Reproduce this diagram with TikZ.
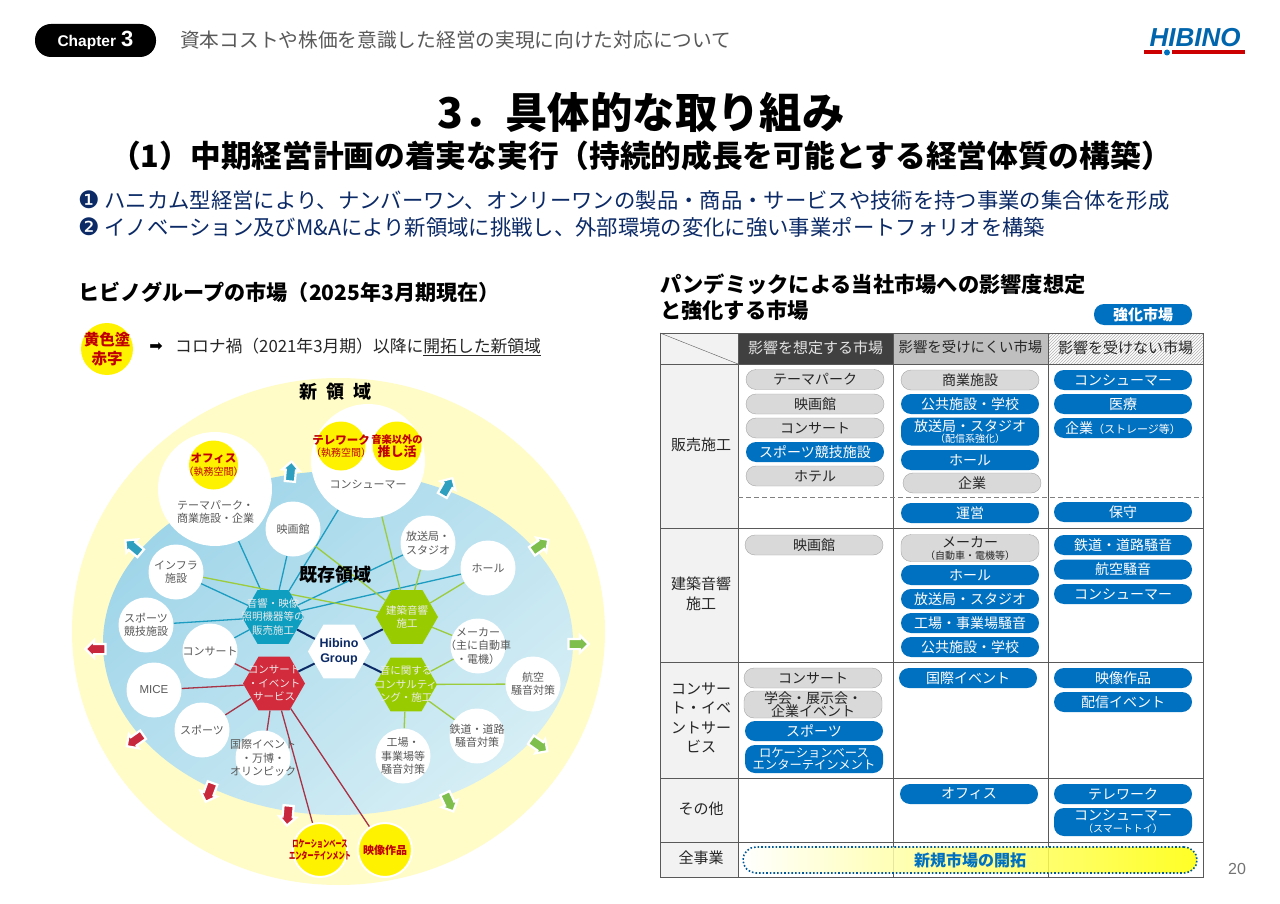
\documentclass[tikz,border=0pt]{standalone}
\usepackage{fontspec}
\setmainfont{Noto Sans CJK JP}
\newfontfamily\arfont{Liberation Sans}
\newfontfamily\dvfont{DejaVu Sans}
\usetikzlibrary{arrows,calc,positioning,patterns,shapes.geometric,shapes.arrows}
\pgfdeclarelayer{bg}
\pgfdeclarelayer{lines}
\pgfsetlayers{bg,lines,main}
\definecolor{pillblue}{HTML}{0070C0}
\definecolor{pillgray}{HTML}{D9D9D9}
\definecolor{pillrim}{HTML}{A6A6A6}
\definecolor{txtgray}{HTML}{595959}
\definecolor{navy}{HTML}{0B2A66}
\definecolor{linkblue}{HTML}{1C9CC0}
\definecolor{linkgreen}{HTML}{9CCB3B}
\definecolor{linkred}{HTML}{A83246}
\definecolor{hexblue}{HTML}{0E9EC0}
\definecolor{hexgreen}{HTML}{99CC00}
\definecolor{hexred}{HTML}{D22B3C}
\definecolor{arrteal}{HTML}{2E9FBF}
\definecolor{arrgreen}{HTML}{7FBF4D}
\definecolor{arrred}{HTML}{C8283C}
\definecolor{darkred}{HTML}{C00000}
\definecolor{areadark}{HTML}{9FD5E9}
\definecolor{arealight}{HTML}{D6EEF5}
\newcommand{\fs}[1]{\fontsize{#1}{#1}\selectfont}
\tikzset{
  bubble/.style={circle,fill=white,inner sep=0pt,minimum size=55pt},
  bubtxt/.style={align=center,text=txtgray,inner sep=0pt,font=\fontsize{11}{13.5}\selectfont},
  bigbub/.style={bubble,minimum size=114pt},
  hexa/.style={regular polygon,regular polygon sides=6,inner sep=0pt,minimum size=62pt},
  hextxt/.style={align=center,text=white!92!black,inner sep=0pt,font=\fontsize{10.5}{13.5}\selectfont},
  yelbub/.style={circle,fill=yellow,draw=white,line width=2pt,inner sep=0pt,minimum size=54pt},
  yelsmall/.style={circle,fill=yellow,inner sep=0pt,minimum size=49pt},
  redtxt/.style={align=center,text=darkred,inner sep=0pt,font=\fontsize{10}{12.5}\selectfont},
  outarrow/.style={single arrow,draw=white,line width=2.2pt,inner sep=4pt,minimum height=20pt,
    single arrow head extend=3.5pt},
  bluelink/.style={draw=linkblue,line width=1.3pt},
  greenlink/.style={draw=linkgreen,line width=1.3pt},
  redlink/.style={draw=linkred,line width=1.3pt},
  navylink/.style={draw=navy,line width=2pt},
  pill/.style={rectangle,rounded corners=10pt,minimum width=138pt,minimum height=20pt,inner sep=0pt,
    align=center,font=\fontsize{14}{14}\selectfont},
  bluepill/.style={pill,fill=pillblue,text=white},
  graypill/.style={pill,fill=pillgray,draw=pillrim,text=black!85},
  rowlabel/.style={align=center,inner sep=0pt,text=black!85,font=\fontsize{15}{19.5}\selectfont},
  headtxt/.style={inner sep=0pt,font=\fontsize{15}{16}\selectfont}
}
\begin{document}
\begin{tikzpicture}[x=1pt,y=-1pt]
  \useasboundingbox (0,0) rectangle (1280,904);
  \begin{pgfonlayer}{bg}
    \fill[white] (0,0) rectangle (1280,904);
    \node[ellipse,fill=yellow!22,minimum width=533pt,minimum height=507pt,inner sep=0pt] (newarea) at (338.5,631.5) {};
    \node[ellipse,left color=areadark,right color=arealight,shading angle=40,minimum width=470pt,minimum height=344pt,inner sep=0pt] (oldarea) at (338,643) {};
  \end{pgfonlayer}

  % page head
  \node[fill=black,rounded corners=16pt,minimum width=121pt,minimum height=33pt,text=white,inner sep=0pt] (chap) at (95.5,40.5)
    {\arfont\bfseries\fs{15.5}Chapter\,\,\fs{22}3};
  \node[anchor=west,inner sep=0pt,text=txtgray,font=\fs{19.7}] (chaptitle) at (180,40) {資本コストや株価を意識した経営の実現に向けた対応について};
  \node[inner sep=0pt,text=pillblue!90!black,font=\arfont\bfseries\itshape\fs{26}] (logo) at (1195,38) {HIBINO};
  \fill[red!80!black] (1144,50.5) rectangle (1162,54.5);
  \fill[red!80!black] (1172,50.5) rectangle (1245,54.5);
  \node[circle,fill=pillblue,inner sep=0pt,minimum size=6pt] (logodot) at (1167,52.5) {};

  \node[font=\bfseries\fs{42.4},inner sep=0pt] (title) at (641,112) {3．具体的な取り組み};
  \node[font=\bfseries\fs{30.7},inner sep=0pt] (subtitle) at (641,156) {（1）中期経営計画の着実な実行（持続的成長を可能とする経営体質の構築）};
  \node[anchor=west,inner sep=0pt,text=navy,font=\fs{21.35}] (point1) at (78,200)
    {{\dvfont\fs{24}❶} ハニカム型経営により、ナンバーワン、オンリーワンの製品・商品・サービスや技術を持つ事業の集合体を形成};
  \node[anchor=west,inner sep=0pt,text=navy,font=\fs{21.35}] (point2) at (78,227)
    {{\dvfont\fs{24}❷} イノベーション及びM\&Aにより新領域に挑戦し、外部環境の変化に強い事業ポートフォリオを構築};

  % left chart
  \node[anchor=west,inner sep=0pt,font=\bfseries\fs{21.1}] (lefthead) at (78,292) {ヒビノグループの市場（2025年3月期現在）};
  \node[yelbub,minimum size=52pt,draw=none,label={[redtxt,font=\bfseries\fontsize{15.5}{19}\selectfont]center:{黄色塗\\赤字}}] (legend) at (107,349) {};
  \node[inner sep=0pt,font=\dvfont\fs{16}] (legarrow) at (156,347) {➡};
  \node[anchor=west,inner sep=0pt,text=black!85,font=\fs{16.8}] (legtxt) at (175,347) {コロナ禍（2021年3月期）以降に\underline{開拓した新領域}};
  \node[font=\bfseries\fs{18},inner sep=0pt] (newlabel) at (335,392) {新\,\,\,領\,\,\,域};

  \node[bigbub] (office) at (215,489) {};
  \node[bigbub] (consumer) at (368,461) {};
  \node[yelsmall,label={[redtxt]center:{\bfseries\fs{11.5}オフィス\\（執務空間）}}] (officey) at (213.5,465) {};
  \node[yelsmall,label={[redtxt]center:{\bfseries\fs{11.5}テレワーク\\（執務空間）}}] (telework) at (341,446) {};
  \node[yelsmall,label={[redtxt]center:{\bfseries\fs{10.3}音楽以外の\\\bfseries\fs{13}推し活}}] (oshi) at (397,446) {};
  \node[bubtxt] (officetxt) at (215.5,512) {テーマパーク・\\商業施設・企業};
  \node[bubtxt] (consumertxt) at (368,485) {コンシューマー};

  \node[bubble,label={[bubtxt]center:映画館}] (cinema) at (293,529) {};
  \node[bubble,label={[bubtxt]center:{インフラ\\施設}}] (infra) at (176,572) {};
  \node[bubble,label={[bubtxt]center:{スポーツ\\競技施設}}] (stadium) at (146,625) {};
  \node[bubble,label={[bubtxt]center:コンサート}] (concert) at (210,651) {};
  \node[bubble,label={[bubtxt,font=\arfont\fs{11.5}]center:MICE}] (mice) at (154,690) {};
  \node[bubble,label={[bubtxt]center:スポーツ}] (sports) at (202,730) {};
  \node[bubble,label={[bubtxt]center:{国際イベント\\・万博・\\オリンピック}}] (expo) at (263,758) {};
  \node[bubble,label={[bubtxt]center:{放送局・\\スタジオ}}] (radio) at (428,543) {};
  \node[bubble,label={[bubtxt]center:ホール}] (hall) at (488,568) {};
  \node[bubble,label={[bubtxt]center:{メーカー\\（主に自動車\\・電機）}}] (maker) at (478,646) {};
  \node[bubble,label={[bubtxt]center:{航空\\騒音対策}}] (aero) at (533,684) {};
  \node[bubble,label={[bubtxt]center:{鉄道・道路\\騒音対策}}] (rail) at (477,736) {};
  \node[bubble,label={[bubtxt]center:{工場・\\事業場等\\騒音対策}}] (plant) at (403,756) {};
  \node[yelbub,label={[redtxt]center:{\bfseries\scalebox{.62}[1]{ロケーションベース}\\\bfseries\scalebox{.62}[1]{エンターテインメント}}}] (lbe) at (320,850) {};
  \node[yelbub,label={[redtxt,font=\bfseries\fs{11}]center:映像作品}] (video) at (385,850) {};

  \node[hexa,fill=hexblue,label={[hextxt]center:{音響・映像\\照明機器等の\\販売施工}}] (hexsale) at (273,617) {};
  \node[hexa,fill=hexred,label={[hextxt]center:{コンサート\\・イベント\\サービス}}] (hexevent) at (274,683.5) {};
  \node[hexa,fill=hexgreen,label={[hextxt]center:{建築音響\\施工}}] (hexbuild) at (407,617) {};
  \node[hexa,fill=hexgreen,label={[hextxt]center:{音に関する\\コンサルティ\\ング・施工}}] (hexsound) at (406,684.5) {};
  \node[hexa,fill=white,label={[align=center,inner sep=0pt,text=navy,font=\arfont\bfseries\fontsize{12.5}{15}\selectfont]center:{Hibino\\Group}}] (hibino) at (339,651.5) {};
  \node[font=\bfseries\fs{18},inner sep=0pt] (oldlabel) at (335,575) {既存領域};

  \begin{pgfonlayer}{lines}
    \path[bluelink]
      (hexsale) edge (office)
      (hexsale) edge (cinema)
      (hexsale) edge (consumer)
      (hexsale) edge (infra)
      (hexsale) edge (stadium)
      (hexsale) edge (concert)
      (hexsale) edge (radio)
      (hexsale) edge (hall);
    \path[greenlink]
      (hexbuild) edge (consumer)
      (hexbuild) edge (cinema)
      (hexbuild) edge (infra)
      (hexbuild) edge (radio)
      (hexbuild) edge (hall)
      (hexbuild) edge (maker)
      (hexsound) edge (maker)
      (hexsound) edge (aero)
      (hexsound) edge (rail)
      (hexsound) edge (plant);
    \path[redlink]
      (hexevent) edge (concert)
      (hexevent) edge (mice)
      (hexevent) edge (sports)
      (hexevent) edge (expo)
      (hexevent) edge (lbe)
      (hexevent) edge (video);
    \path[navylink]
      (hibino) edge (hexsale)
      (hibino) edge (hexevent)
      (hibino) edge (hexbuild)
      (hibino) edge (hexsound);
  \end{pgfonlayer}

  \node[outarrow,fill=arrteal,rotate=85] (arr1) at (290.5,474) {};
  \node[outarrow,fill=arrteal,rotate=140] (arr2) at (135,548.5) {};
  \node[outarrow,fill=arrteal,rotate=60] (arr3) at (446,489) {};
  \node[outarrow,fill=arrgreen,rotate=35] (arr4) at (538,547) {};
  \node[outarrow,fill=arrgreen,rotate=0] (arr5) at (576,644) {};
  \node[outarrow,fill=arrgreen,rotate=-35] (arr6) at (537,744) {};
  \node[outarrow,fill=arrgreen,rotate=-65] (arr7) at (448,800) {};
  \node[outarrow,fill=arrred,rotate=180] (arr8) at (98,649) {};
  \node[outarrow,fill=arrred,rotate=215] (arr9) at (137,739) {};
  \node[outarrow,fill=arrred,rotate=250] (arr10) at (210,790) {};
  \node[outarrow,fill=arrred,rotate=265] (arr11) at (288,813) {};

  % right table
  \node[anchor=west,inner sep=0pt,font=\bfseries\fs{21.25}] (righthead) at (660,284) {パンデミックによる当社市場への影響度想定};
  \node[anchor=west,inner sep=0pt,font=\bfseries\fs{21.25}] (righthead2) at (660,310) {と強化する市場};
  \node[bluepill,minimum width=98pt,minimum height=21pt,font=\bfseries\fs{15}] (boost) at (1143,314.5) {強化市場};

  \fill[black!5] (660,333) rectangle (738,877);
  \fill[black!75] (738,333) rectangle (893,364);
  \fill[black!25] (893,333) rectangle (1048,364);
  \fill[pattern=north east lines,pattern color=black!30] (1048,333) rectangle (1203,364);
  \draw[black!65,line width=.9pt] (660,333) rectangle (1203,877);
  \foreach \colx in {738,893,1048}
    \draw[black!65,line width=.9pt] (\colx,333) -- (\colx,877);
  \foreach \rowy in {364,528,662,778,842}
    \draw[black!65,line width=.9pt] (660,\rowy) -- (1203,\rowy);
  \draw[black!65] (660,333) -- (738,364);
  \draw[black!50,dash pattern=on 5pt off 3pt,line width=1pt] (738,497) -- (1203,497);

  \node[headtxt,text=white!90!black] (headA) at (815.5,347.5) {影響を想定する市場};
  \node[headtxt,text=black!85,font=\fs{14.4}] (headB) at (970.5,347.5) {影響を受けにくい市場};
  \node[headtxt,text=black!85] (headC) at (1125.5,347.5) {影響を受けない市場};
  \node[rowlabel] (rowsale) at (701,445) {販売施工};
  \node[rowlabel] (rowbuild) at (701,594) {建築音響\\施工};
  \node[rowlabel] (rowevent) at (701,718) {コンサー\\ト・イベ\\ントサー\\ビス};
  \node[rowlabel] (rowother) at (701,809) {その他};
  \node[rowlabel] (rowall) at (701,858) {全事業};

  % column A
  \node[graypill] (a1) at (815,379.5) {テーマパーク};
  \node[graypill] (a2) at (815,404) {映画館};
  \node[graypill] (a3) at (815,428) {コンサート};
  \node[bluepill] (a4) at (815,452) {スポーツ競技施設};
  \node[graypill] (a5) at (815,476) {ホテル};
  \node[graypill] (a6) at (814,545) {映画館};
  \node[graypill] (a7) at (813,678) {コンサート};
  \node[graypill,minimum height=27pt,font=\fontsize{14}{13}\selectfont] (a8) at (813,704.5) {学会・展示会・\\企業イベント};
  \node[bluepill] (a9) at (814,731) {スポーツ};
  \node[bluepill,minimum height=28pt,font=\fontsize{12.3}{12.5}\selectfont] (a10) at (814,759) {ロケーションベース\\エンターテインメント};
  % column B
  \node[graypill] (b1) at (970,380) {商業施設};
  \node[bluepill] (b2) at (970,404) {公共施設・学校};
  \node[bluepill,minimum height=28pt,font=\fontsize{14}{11}\selectfont] (b3) at (970,431.5) {放送局・スタジオ\\{\fs{10}（配信系強化）}};
  \node[bluepill] (b4) at (970,460) {ホール};
  \node[graypill] (b5) at (972,483) {企業};
  \node[bluepill] (b6) at (970,513) {運営};
  \node[graypill,minimum height=27pt,font=\fontsize{14}{12}\selectfont] (b7) at (970,548) {メーカー\\{\fs{10}（自動車・電機等）}};
  \node[bluepill] (b8) at (970,575) {ホール};
  \node[bluepill] (b9) at (970,599) {放送局・スタジオ};
  \node[bluepill] (b10) at (970,623) {工場・事業場騒音};
  \node[bluepill] (b11) at (970,647) {公共施設・学校};
  \node[bluepill] (b12) at (968,678) {国際イベント};
  \node[bluepill] (b13) at (969,794) {オフィス};
  % column C
  \node[bluepill] (c1) at (1123,380) {コンシューマー};
  \node[bluepill] (c2) at (1123,404) {医療};
  \node[bluepill] (c3) at (1123,428) {企業{\fs{11}（ストレージ等）}};
  \node[bluepill] (c4) at (1123,512) {保守};
  \node[bluepill] (c5) at (1123,545) {鉄道・道路騒音};
  \node[bluepill] (c6) at (1123,569.5) {航空騒音};
  \node[bluepill] (c7) at (1123,594) {コンシューマー};
  \node[bluepill] (c8) at (1123,678) {映像作品};
  \node[bluepill] (c9) at (1123,702) {配信イベント};
  \node[bluepill] (c10) at (1123,794) {テレワーク};
  \node[bluepill,minimum height=28pt,font=\fontsize{14}{12}\selectfont] (c11) at (1123,822) {コンシューマー\\{\fs{10}（スマートトイ）}};

  \node[draw=pillblue!80!black,dotted,line width=1.6pt,rounded corners=13pt,minimum width=454pt,minimum height=26pt,inner sep=0pt,
    left color=white,middle color=yellow!35,right color=yellow,fill opacity=.85,text opacity=1,text=pillblue,font=\bfseries\fs{16}] (banner) at (970,860) {新規市場の開拓};

  \node[inner sep=0pt,text=black!55,font=\arfont\fs{16}] (pageno) at (1237,869) {20};
\end{tikzpicture}
\end{document}
